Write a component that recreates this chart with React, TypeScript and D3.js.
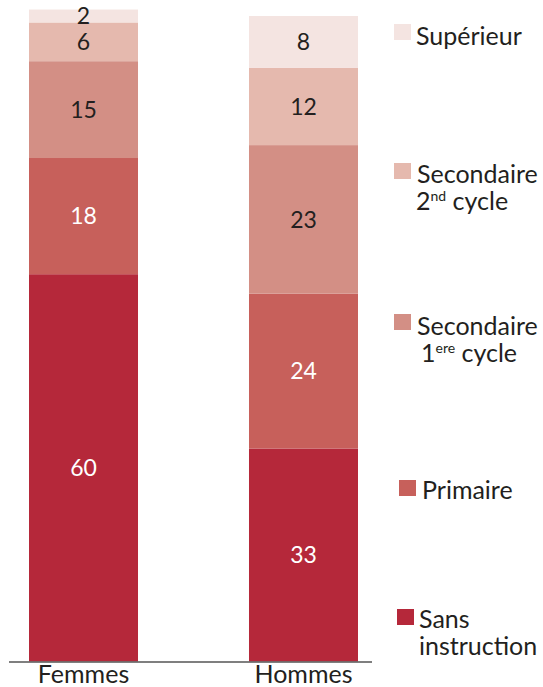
import React, { useEffect, useRef } from "react";
import * as d3 from "d3";

// categories and series
const categories = ["Femmes", "Hommes"];
const seriesKeys = ["sans", "primaire", "sec1", "sec2", "sup"];
const sansInstruction = [60, 33];
const primaire = [18, 24];
const secondaire1 = [15, 23];
const secondaire2 = [6, 12];
const superieur = [2, 8];

const colors = ["#b5283a", "#c7605b", "#d38f85", "#e5b9ae", "#f4e4e1"];
const labelColors = ["#ffffff", "#ffffff", "#231f20", "#231f20", "#231f20"];

// legend entries, top to bottom
const legend = [
  { key: "sup", lines: [["Supérieur"]] },
  { key: "sec2", lines: [["Secondaire"], ["2", "nd", " cycle"]] },
  { key: "sec1", lines: [["Secondaire"], ["1", "ere", " cycle"]] },
  { key: "primaire", lines: [["Primaire"]] },
  { key: "sans", lines: [["Sans"], ["instruction"]] },
];
// legend layout (square x, square y, text x, second line x, first baseline)
const legendPos = [
  { sx: 394, sy: 24, tx: 416, tx2: 416, by: 45 },
  { sx: 394, sy: 163, tx: 417, tx2: 416, by: 183 },
  { sx: 394, sy: 314, tx: 417, tx2: 421, by: 335 },
  { sx: 399, sy: 480, tx: 422, tx2: 422, by: 499 },
  { sx: 397, sy: 609, tx: 419, tx2: 419, by: 628 },
];

const W = 543;
const H = 687;
const FONT = "Lato, 'Open Sans', sans-serif";

export default function App() {
  const ref = useRef<SVGSVGElement>(null);

  useEffect(() => {
    const svg = d3.select(ref.current);
    svg.selectAll("*").remove();

    const rows = categories.map((c, i) => ({
      cat: c,
      sans: sansInstruction[i],
      primaire: primaire[i],
      sec1: secondaire1[i],
      sec2: secondaire2[i],
      sup: superieur[i],
    }));

    const stack = d3.stack<any>().keys(seriesKeys);
    const series = stack(rows);

    const x = d3.scaleBand()
      .domain(categories)
      .range([29, 358])
      .paddingInner(0.5045)
      .paddingOuter(0);

    const y = d3.scaleLinear()
      .domain([0, 100])
      .range([661.5, 16]);

    const groups = svg.append("g")
      .selectAll("g")
      .data(series)
      .enter()
      .append("g")
      .attr("fill", (d, i) => colors[i]);

    groups.selectAll("rect")
      .data((d) => d)
      .enter()
      .append("rect")
      .attr("x", (d: any) => x(d.data.cat)!)
      .attr("y", (d) => y(d[1]))
      .attr("width", x.bandwidth())
      .attr("height", (d) => y(d[0]) - y(d[1]));

    // value labels
    series.forEach((s, i) => {
      svg.append("g")
        .selectAll("text")
        .data(s)
        .enter()
        .append("text")
        .attr("x", (d: any) => x(d.data.cat)! + x.bandwidth() / 2)
        .attr("y", (d) => (y(d[0]) + y(d[1])) / 2)
        .attr("dy", "0.36em")
        .attr("text-anchor", "middle")
        .attr("font-family", FONT)
        .attr("font-size", 23)
        .attr("fill", labelColors[i])
        .text((d) => d[1] - d[0]);
    });

    // baseline
    svg.append("line")
      .attr("x1", 9)
      .attr("x2", 372)
      .attr("y1", y(0) + 0.5)
      .attr("y2", y(0) + 0.5)
      .attr("stroke", "#555555")
      .attr("stroke-width", 1.4);

    const axis = svg.append("g")
      .attr("transform", `translate(0, ${y(0)})`)
      .call(d3.axisBottom(x).tickSize(0).tickPadding(0));
    axis.select(".domain").remove();
    axis.selectAll("text")
      .attr("y", 21.5)
      .attr("dy", 0)
      .attr("font-family", FONT)
      .attr("font-size", 25)
      .attr("fill", "#231f20");

    // legend
    const lg = svg.append("g").attr("font-family", FONT).attr("font-size", 25).attr("fill", "#231f20");
    legend.forEach((item, i) => {
      const p = legendPos[i];
      const ci = seriesKeys.indexOf(item.key);
      lg.append("rect")
        .attr("x", p.sx)
        .attr("y", p.sy)
        .attr("width", 17)
        .attr("height", 16)
        .attr("fill", colors[ci]);
      item.lines.forEach((parts, li) => {
        const t = lg.append("text")
          .attr("x", li === 0 ? p.tx : p.tx2)
          .attr("y", p.by + li * 27);
        t.append("tspan").text(parts[0]);
        if (parts.length > 1) {
          t.append("tspan").attr("dy", -9).attr("font-size", 14).text(parts[1]);
          t.append("tspan").attr("dy", 9).text(parts[2]);
        }
      });
    });
  }, []);

  return (
    <svg
      ref={ref}
      width={W}
      height={H}
      style={{ position: "absolute", left: 0, top: 0, background: "#fff" }}
    />
  );
}
